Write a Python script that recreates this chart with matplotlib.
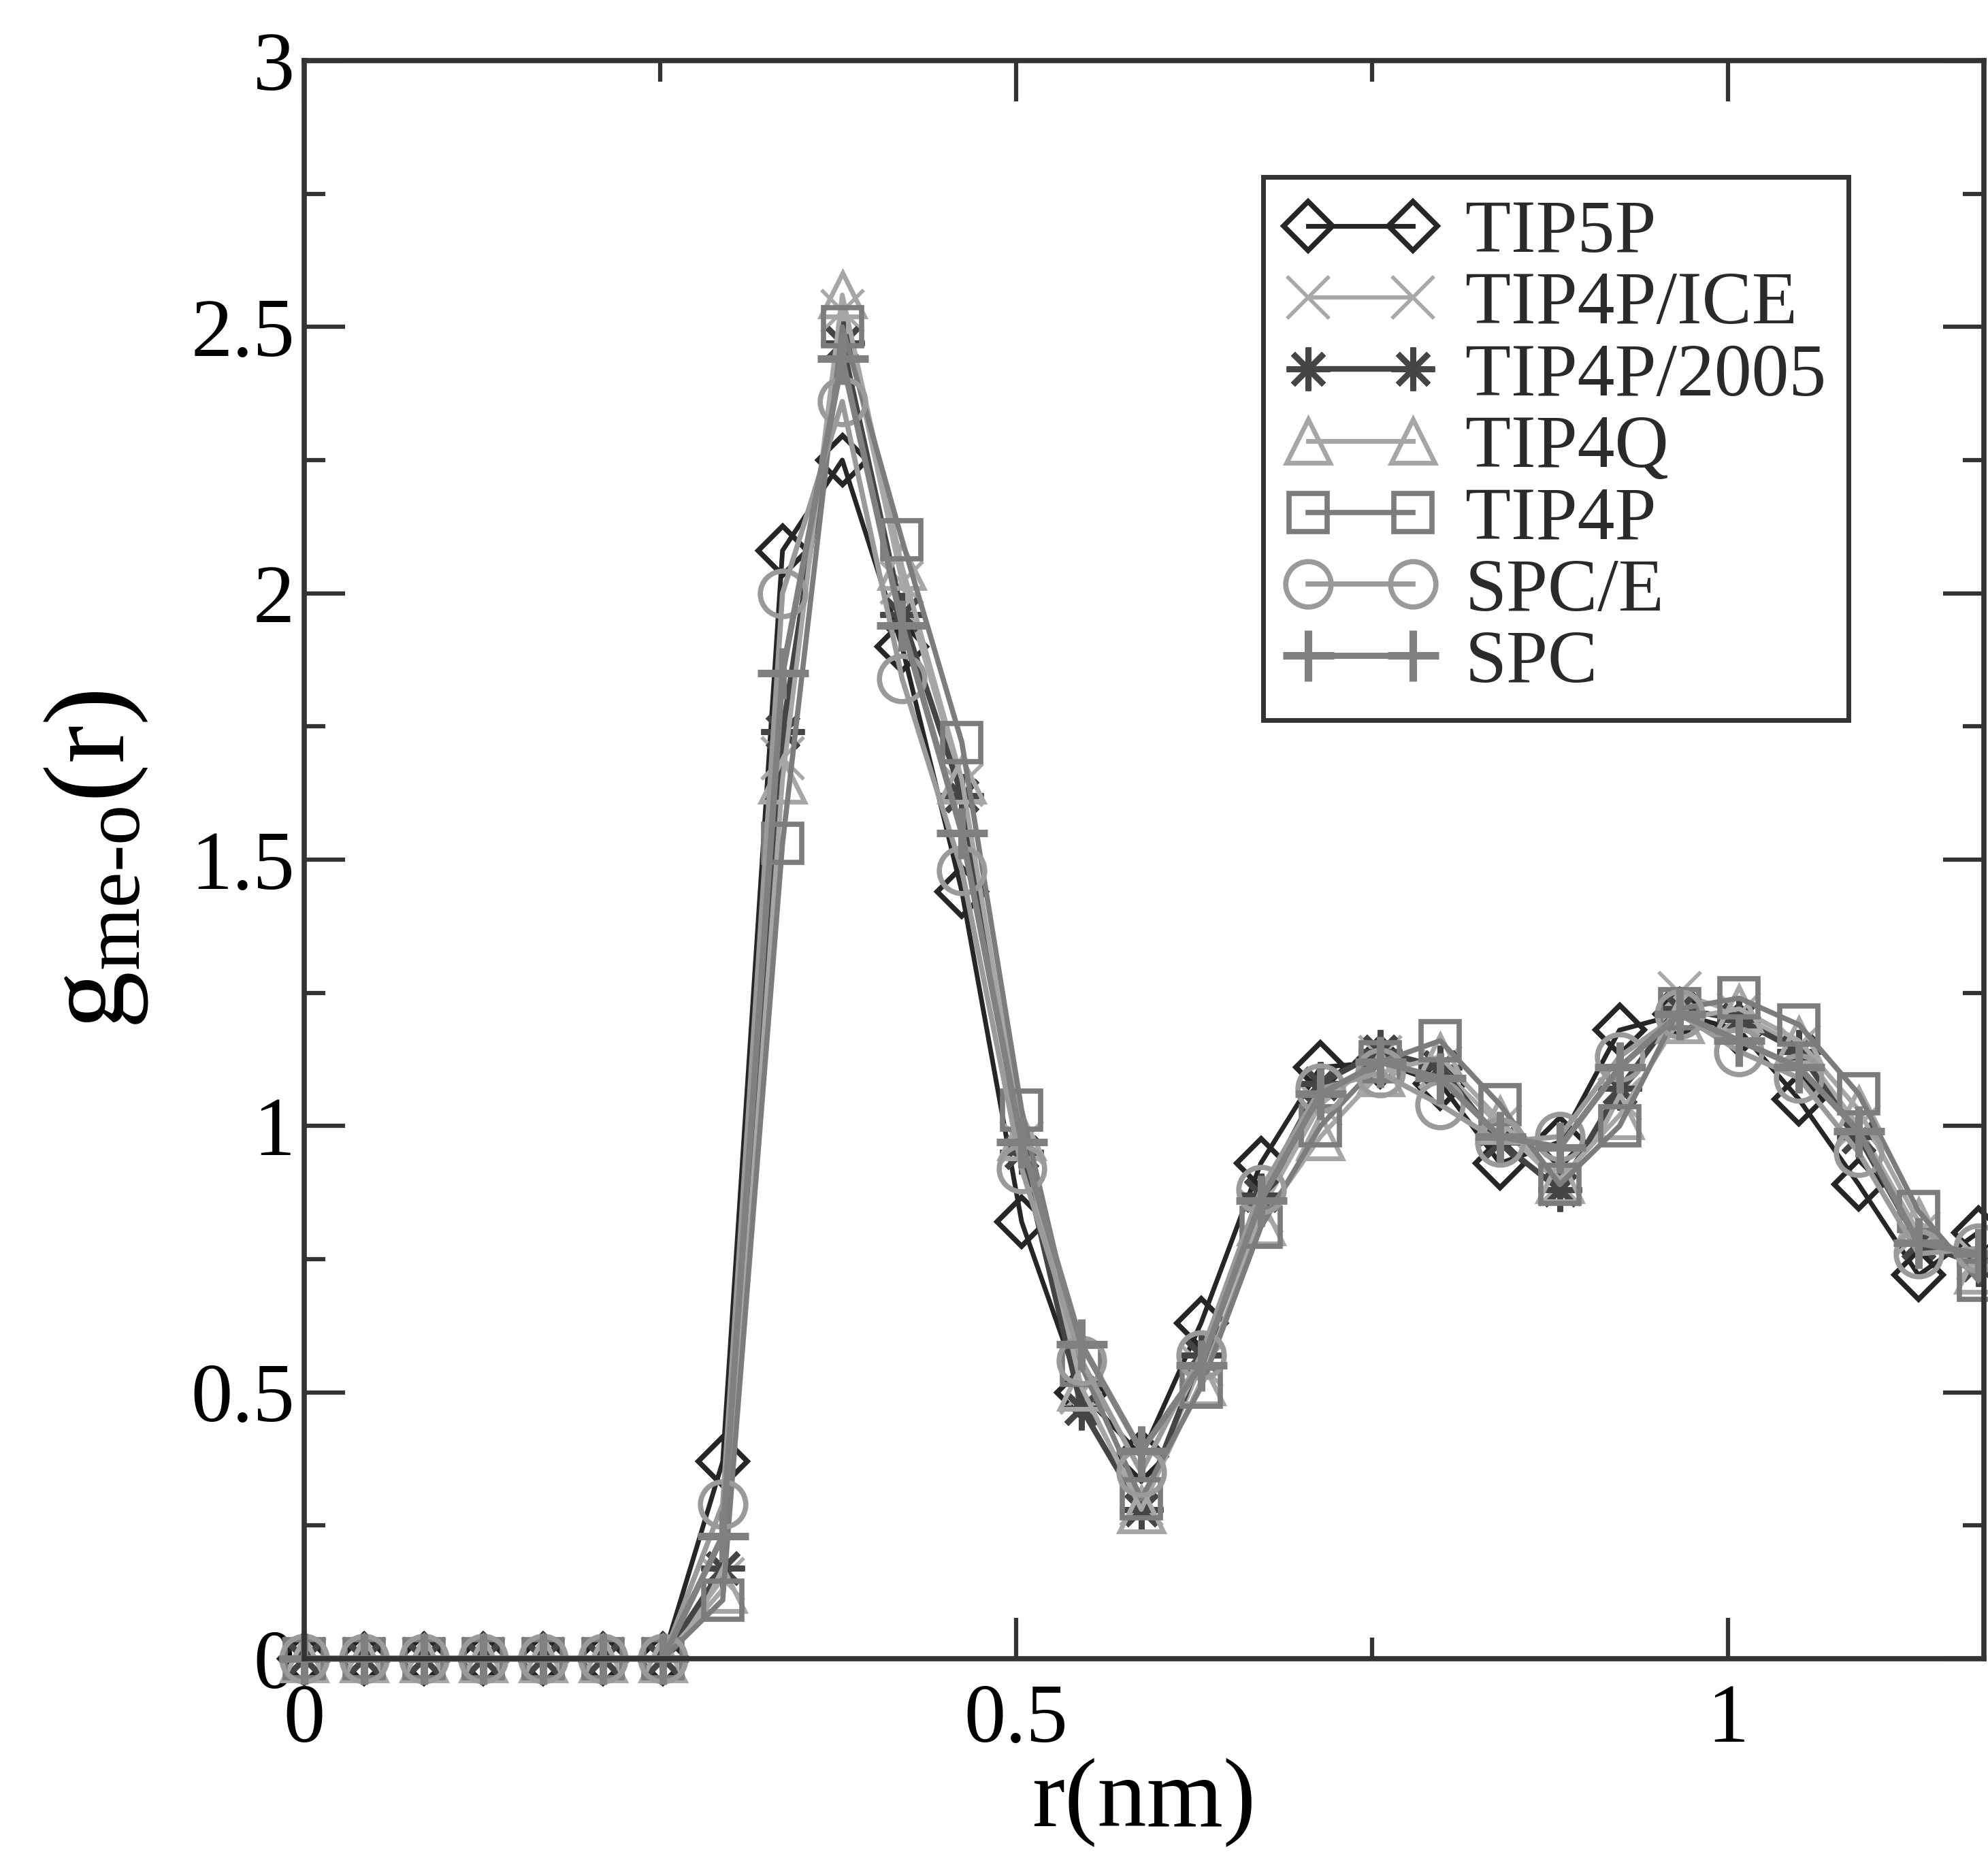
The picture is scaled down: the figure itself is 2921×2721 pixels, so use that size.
import matplotlib
matplotlib.use("Agg")
import matplotlib.pyplot as plt
from matplotlib.ticker import MultipleLocator

plt.rcParams['font.family'] = ['Liberation Serif', 'DejaVu Serif']
plt.rcParams['mathtext.fontset'] = 'custom'
plt.rcParams['mathtext.rm'] = 'Liberation Serif'
plt.rcParams['mathtext.it'] = 'Liberation Serif:italic'

# r (nm) at the plotted symbols
r = [0.000, 0.042, 0.084, 0.126, 0.168, 0.210, 0.252, 0.294, 0.336, 0.378,
     0.420, 0.462, 0.504, 0.546, 0.588, 0.630, 0.672, 0.714, 0.756, 0.798,
     0.840, 0.882, 0.924, 0.966, 1.008, 1.050, 1.092, 1.134, 1.176]

zeros = [0.0] * 7
g_tip5p = zeros + [0.37, 2.08, 2.25, 1.90, 1.44, 0.82, 0.50, 0.38, 0.63, 0.93, 1.11,
                   1.12, 1.08, 0.93, 0.97, 1.18, 1.21, 1.18, 1.05, 0.89, 0.72, 0.80]
g_tip4p_ice = zeros + [0.15, 1.69, 2.53, 2.02, 1.64, 0.97, 0.50, 0.29, 0.55, 0.84, 1.04,
                       1.13, 1.11, 1.00, 0.89, 1.05, 1.25, 1.21, 1.15, 1.00, 0.80, 0.75]
g_tip4p_2005 = zeros + [0.17, 1.74, 2.47, 1.96, 1.62, 0.95, 0.47, 0.28, 0.57, 0.87, 1.08,
                        1.14, 1.11, 0.97, 0.88, 1.07, 1.22, 1.20, 1.14, 0.98, 0.78, 0.74]
g_tip4q = zeros + [0.13, 1.65, 2.56, 2.05, 1.65, 0.98, 0.51, 0.28, 0.52, 0.82, 0.98,
                   1.10, 1.13, 1.01, 0.90, 1.02, 1.20, 1.22, 1.16, 1.03, 0.82, 0.73]
g_tip4p = zeros + [0.11, 1.53, 2.50, 2.10, 1.72, 1.03, 0.55, 0.30, 0.51, 0.81, 1.00,
                   1.12, 1.16, 1.04, 0.89, 1.00, 1.22, 1.24, 1.19, 1.06, 0.84, 0.71]
g_spce = zeros + [0.29, 2.00, 2.36, 1.84, 1.48, 0.92, 0.56, 0.35, 0.57, 0.88, 1.07,
                  1.10, 1.04, 0.97, 0.98, 1.13, 1.21, 1.14, 1.09, 0.95, 0.76, 0.77]
g_spc = zeros + [0.23, 1.85, 2.44, 1.94, 1.55, 0.97, 0.59, 0.39, 0.55, 0.86, 1.06,
                 1.12, 1.09, 0.98, 0.96, 1.11, 1.21, 1.16, 1.11, 0.99, 0.78, 0.76]

labels = ["TIP5P", "TIP4P/ICE", "TIP4P/2005", "TIP4Q", "TIP4P", "SPC/E", "SPC"]
series = [g_tip5p, g_tip4p_ice, g_tip4p_2005, g_tip4q, g_tip4p, g_spce, g_spc]

# style per model: marker, size, edge width, colour, line width
styles = [
    ("D", 37, 5.5, "#262626", 5.0),
    ("x", 44, 4.0, "#a8a8a8", 4.5),
    ((8, 2, 0), 46, 6.0, "#454545", 6.0),
    ("^", 46, 5.0, "#a6a6a6", 5.0),
    ("s", 40, 5.5, "#7c7c7c", 5.5),
    ("o", 48, 5.5, "#9a9a9a", 5.5),
    ("+", 54, 8.0, "#808080", 6.5),
]

fig = plt.figure(figsize=(29.21, 27.21), dpi=100)
ax = fig.add_axes([0.153, 0.1044, 0.845, 0.8629])

for g, lab, (mk, ms, mew, col, lw) in zip(series, labels, styles):
    ax.plot(r, g, color=col, lw=lw, marker=mk, ms=ms, mew=mew,
            mfc="none", mec=col, label=lab, clip_on=False)

ax.set_xlim(0, 1.18)
ax.set_ylim(0, 3)
ax.xaxis.set_major_locator(MultipleLocator(0.5))
ax.xaxis.set_minor_locator(MultipleLocator(0.25))
ax.yaxis.set_major_locator(MultipleLocator(0.5))
ax.yaxis.set_minor_locator(MultipleLocator(0.25))
ax.xaxis.set_major_formatter(plt.FuncFormatter(lambda v, p: f"{v:g}"))
ax.yaxis.set_major_formatter(plt.FuncFormatter(lambda v, p: f"{v:g}"))

ax.tick_params(which="both", direction="in", top=True, right=True,
               color="#333333", width=4.5)
ax.tick_params(which="major", length=43, labelsize=88)
ax.tick_params(axis="x", which="major", pad=26)
ax.tick_params(axis="y", which="major", pad=10)
ax.tick_params(which="minor", length=22)
for sp in ax.spines.values():
    sp.set_linewidth(5.5)
    sp.set_color("#333333")

ax.set_xlabel("r(nm)", fontsize=104)
ax.set_ylabel(r"g$_{\mathrm{me}\text{-}\mathrm{o}}$(r)", fontsize=122)
ax.xaxis.set_label_coords(0.5, -0.062)
ax.yaxis.set_label_coords(-0.092, 0.5)

leg = ax.legend(loc="upper left", bbox_to_anchor=(0.571, 0.927), borderaxespad=0,
                fontsize=79, numpoints=2, handlelength=2.0, handletextpad=0.4,
                borderpad=0.3, labelspacing=0.05, fancybox=False, framealpha=1,
                edgecolor="#333333")
leg.get_frame().set_linewidth(5)
for t in leg.get_texts():
    t.set_color("#2a2a2a")

fig.savefig("out.png", dpi=100, facecolor="white")
